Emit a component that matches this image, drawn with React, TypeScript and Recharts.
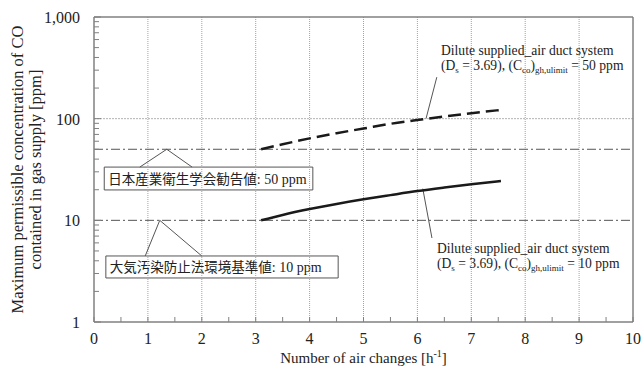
import React from 'react';
import { LineChart, Line, XAxis, YAxis, ReferenceLine, ReferenceArea } from 'recharts';

// air changes [1/h] and the two permissible CO curves [ppm]
const airChanges = [3.1, 3.5, 4, 4.5, 5, 5.5, 6, 6.5, 7, 7.55];
const limit50ppm = [50, 56, 64, 72, 80, 89, 97, 105, 113, 122];
const limit10ppm = [10, 11.3, 12.9, 14.5, 16.1, 17.7, 19.4, 21, 22.6, 24.4];

// reference standards [ppm]
const guideValues = [50, 10];

const xTicks = [0, 0.5, 1, 1.5, 2, 2.5, 3, 3.5, 4, 4.5, 5, 5.5, 6, 6.5, 7, 7.5, 8, 8.5, 9, 9.5, 10];
const xGridLines = [1, 2, 3, 4, 5, 6, 7, 8, 9];
const yTicks = [
  1, 2, 3, 4, 5, 6, 7, 8, 9,
  10, 20, 30, 40, 50, 60, 70, 80, 90,
  100, 200, 300, 400, 500, 600, 700, 800, 900,
  1000,
];
const yMajorTicks = [1, 10, 100, 1000];

const chartData = airChanges.map((x, i) => ({ x, c50: limit50ppm[i], c10: limit10ppm[i] }));

const SERIF = '"Liberation Serif", "Times New Roman", serif';
const CJK = '"Noto Sans CJK JP", sans-serif';
const AXIS = '#808080';

function XTick(props: any) {
  const { x, y, payload } = props;
  const v = payload.value;
  const major = Number.isInteger(v);
  return (
    <g>
      <line x1={x} x2={x} y1={y} y2={y - 5} stroke={AXIS} />
      {major && (
        <text x={x} y={y + 22} textAnchor='middle' fontSize={16} fill='#222' fontFamily={SERIF}>
          {v}
        </text>
      )}
    </g>
  );
}

function YTick(props: any) {
  const { x, y, payload } = props;
  const v = payload.value;
  const major = yMajorTicks.includes(v);
  return (
    <g>
      <line x1={x} x2={x + (major ? 7 : 5)} y1={y} y2={y} stroke={AXIS} />
      {major && (
        <text x={x - 14} y={y + 6} textAnchor='end' fontSize={16} fill='#222' fontFamily={SERIF}>
          {v.toLocaleString('en-US')}
        </text>
      )}
    </g>
  );
}

function XTitle(props: any) {
  const { viewBox } = props;
  const cx = viewBox.x + viewBox.width / 2;
  return (
    <text x={cx} y={viewBox.y + 41} textAnchor='middle' fontSize={15} fill='#222' fontFamily={SERIF}>
      Number of air changes [h
      <tspan fontSize={10} dy={-6}>-1</tspan>
      <tspan dy={6}>]</tspan>
    </text>
  );
}

function YTitle(props: any) {
  const { viewBox } = props;
  const cy = viewBox.y + viewBox.height / 2;
  return (
    <text transform={`translate(0, ${cy}) rotate(-90)`} textAnchor='middle' fontSize={16.5} fill='#222' fontFamily={SERIF}>
      <tspan x={0} y={23}>Maximum permissible concentration of CO</tspan>
      <tspan x={0} y={41}>contained in gas supply [ppm]</tspan>
    </text>
  );
}

function BoxLabel(props: any) {
  const { viewBox, jp, ppm } = props;
  return (
    <text x={viewBox.x + 4} y={viewBox.y + viewBox.height / 2 + 5} fontSize={13.5} fill='#222' fontFamily={CJK}>
      {jp}
      <tspan fontFamily={SERIF} fontSize={14}>: {ppm} ppm</tspan>
    </text>
  );
}

function CurveNote({ x, y, ppm }: { x: number; y: number; ppm: number }) {
  return (
    <text fontSize={13.6} fill='#222' fontFamily={SERIF}>
      <tspan x={x} y={y}>Dilute supplied_air duct system</tspan>
      <tspan x={x} y={y + 15}>(D</tspan>
      <tspan fontSize={9} dy={3}>s</tspan>
      <tspan dy={-3}> = 3.69), (C</tspan>
      <tspan fontSize={9} dy={3}>co</tspan>
      <tspan dy={-3}>)</tspan>
      <tspan fontSize={9} dy={3}>gh,ulimit</tspan>
      <tspan dy={-3}> = {ppm} ppm</tspan>
    </text>
  );
}

export default function App() {
  return (
    <div style={{ position: 'absolute', left: 0, top: 0, width: 644, height: 371, background: '#fff' }}>
      <LineChart width={644} height={371} data={chartData} margin={{ top: 17, right: 11, left: 0, bottom: 0 }}>
        <XAxis
          dataKey='x'
          type='number'
          domain={[0, 10]}
          ticks={xTicks}
          interval={0}
          height={49}
          tickSize={0}
          tickMargin={0}
          tick={<XTick />}
          axisLine={{ stroke: AXIS, strokeWidth: 1.5 }}
          tickLine={false}
          label={<XTitle />}
        />
        <YAxis
          type='number'
          scale='log'
          domain={[1, 1000]}
          allowDataOverflow
          ticks={yTicks}
          interval={0}
          width={94}
          tickSize={0}
          tickMargin={0}
          tick={<YTick />}
          axisLine={{ stroke: AXIS, strokeWidth: 1.5 }}
          tickLine={false}
          label={<YTitle />}
        />

        {xGridLines.map((v) => (
          <ReferenceLine key={`gx-${v}`} x={v} stroke='#9c9cd4' strokeDasharray='1 1' />
        ))}
        <ReferenceLine y={100} stroke='#b4b4b4' strokeDasharray='2 1' />
        {guideValues.map((v) => (
          <ReferenceLine key={`g-${v}`} y={v} stroke='#555' strokeDasharray='9 3 2 3' />
        ))}
        <ReferenceLine y={1000} stroke={AXIS} strokeWidth={1.5} />
        <ReferenceLine x={10} stroke={AXIS} strokeWidth={1.5} />

        {/* callouts for the two standards */}
        <ReferenceLine segment={[{ x: 0.85, y: 33.4 }, { x: 1.35, y: 50 }]} stroke='#555' />
        <ReferenceLine segment={[{ x: 1.35, y: 50 }, { x: 1.82, y: 33.4 }]} stroke='#555' />
        <ReferenceLine segment={[{ x: 0.95, y: 4.46 }, { x: 1.22, y: 10 }]} stroke='#555' />
        <ReferenceLine segment={[{ x: 1.22, y: 10 }, { x: 2.0, y: 4.46 }]} stroke='#555' />
        <ReferenceArea
          x1={0.19}
          x2={4.06}
          y1={19.9}
          y2={33.4}
          fill='#fff'
          fillOpacity={1}
          stroke='#555'
          label={<BoxLabel jp='日本産業衛生学会勧告値' ppm={50} />}
        />
        <ReferenceArea
          x1={0.22}
          x2={4.53}
          y1={2.71}
          y2={4.46}
          fill='#fff'
          fillOpacity={1}
          stroke='#555'
          label={<BoxLabel jp='大気汚染防止法環境基準値' ppm={10} />}
        />

        {/* leaders to the curve notes */}
        <ReferenceLine segment={[{ x: 6.16, y: 100 }, { x: 6.36, y: 256 }]} stroke='#555' />
        <ReferenceLine segment={[{ x: 6.1, y: 20.5 }, { x: 6.27, y: 6.7 }]} stroke='#555' />

        <Line dataKey='c50' type='monotone' stroke='#1a1a1a' strokeWidth={2.5} strokeDasharray='13 6' dot={false} isAnimationActive={false} />
        <Line dataKey='c10' type='monotone' stroke='#1a1a1a' strokeWidth={2.5} dot={false} isAnimationActive={false} />
      </LineChart>
      <svg width={644} height={371} style={{ position: 'absolute', left: 0, top: 0, pointerEvents: 'none' }}>
        <CurveNote x={441} y={55} ppm={50} />
        <CurveNote x={437} y={253} ppm={10} />
      </svg>
    </div>
  );
}
